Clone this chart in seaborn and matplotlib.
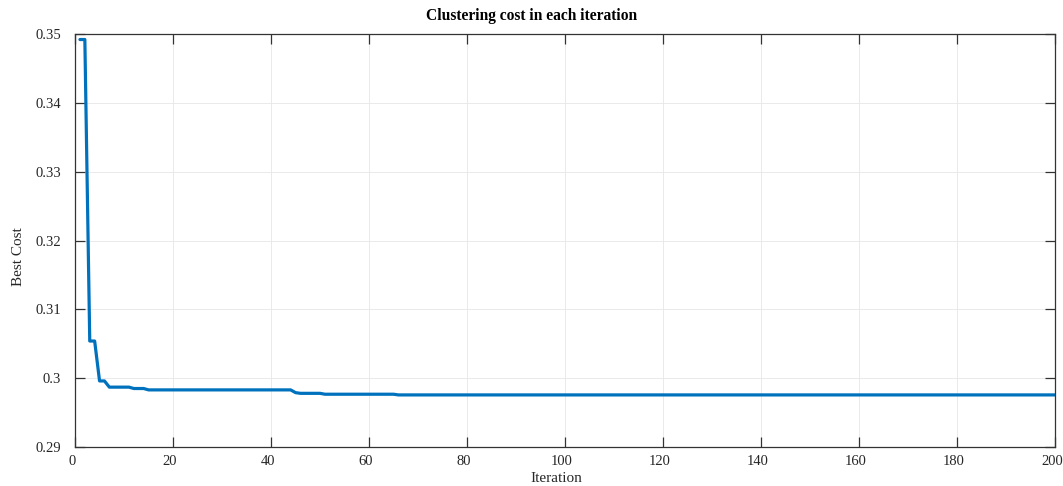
import numpy as np
import pandas as pd
import matplotlib
matplotlib.use("Agg")
import matplotlib.pyplot as plt
import matplotlib.transforms as mtransforms
import seaborn as sns

# Best cost per iteration, read as runs of equal values (start iteration, value)
run_starts = [1, 3, 5, 7, 12, 15, 45, 46, 51, 66]
run_values = [0.3492, 0.3054, 0.2996, 0.2987, 0.2985, 0.2983, 0.2979, 0.2978, 0.29767, 0.29757]
n_iter = 200
x_ticks = [0, 20, 40, 60, 80, 100, 120, 140, 160, 180, 200]
y_ticks = [0.29, 0.30, 0.31, 0.32, 0.33, 0.34, 0.35]
y_tick_labels = ["0.29", "0.3", "0.31", "0.32", "0.33", "0.34", "0.35"]

ends = run_starts[1:] + [n_iter + 1]
counts = [e - s for s, e in zip(run_starts, ends)]
cost = np.repeat(run_values, counts)
df = pd.DataFrame({"Iteration": np.arange(1, n_iter + 1), "Best Cost": cost})

sns.set_theme(style="white")
plt.rcParams["font.family"] = ["Liberation Serif", "DejaVu Serif"]

fig = plt.figure(figsize=(10.63, 4.86), dpi=100)
ax = fig.add_axes([0.0706, 0.0802, 0.9219, 0.8498])

sns.lineplot(data=df, x="Iteration", y="Best Cost", ax=ax, color="#0072BD", linewidth=2.3)

ax.set_xlim(0, 200)
ax.set_ylim(0.29, 0.35)
ax.set_xticks(x_ticks)
ax.set_xticklabels([str(t) for t in x_ticks])
ax.set_yticks(y_ticks)
ax.set_yticklabels(y_tick_labels)

ax.grid(True, color="#e6e6e6", linewidth=0.6)
ax.set_axisbelow(True)
for side in ["top", "right", "bottom", "left"]:
    ax.spines[side].set_visible(True)
    ax.spines[side].set_color("#333333")
    ax.spines[side].set_linewidth(0.9)

ax.tick_params(axis="both", which="both", direction="in", length=7, width=0.9,
               color="#333333", labelsize=10.5, labelcolor="#262626",
               top=True, right=True, bottom=True, left=True)
ax.tick_params(axis="y", pad=10)
ax.tick_params(axis="x", pad=6)

# slight leftward shift of x tick labels as in the reference
shift = mtransforms.ScaledTranslation(-3 / 100, 0, fig.dpi_scale_trans)
for lbl in ax.get_xticklabels():
    lbl.set_transform(lbl.get_transform() + shift)

ax.set_xlabel("Iteration", fontsize=11, color="#262626")
ax.xaxis.set_label_coords(0.491, -0.077)
ax.xaxis.label.set_va("center")
ax.set_ylabel("Best Cost", fontsize=11, color="#262626")
ax.yaxis.set_label_coords(-0.058, 0.46)
ax.yaxis.label.set_va("center")

fig.text(0.5, 1 - 16 / 486, "Clustering cost in each iteration", fontsize=11.2,
         fontweight="bold", ha="center", va="center", color="black")

fig.savefig("out.png", dpi=100)
